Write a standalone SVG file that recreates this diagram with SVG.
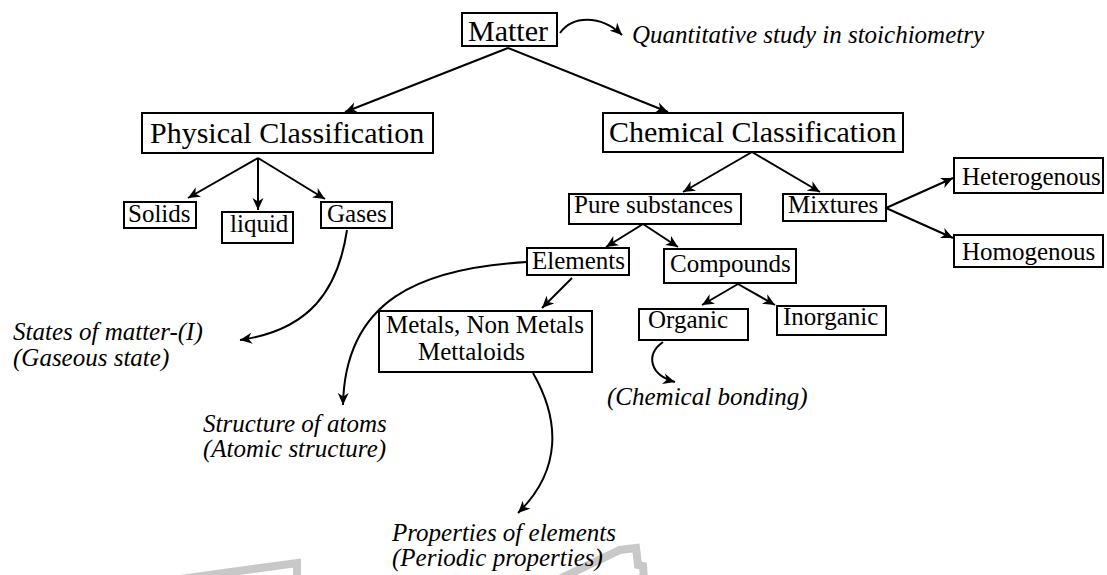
<svg xmlns="http://www.w3.org/2000/svg" width="1107" height="575" viewBox="0 0 1107 575">
<defs>
<marker id="ah" markerUnits="userSpaceOnUse" markerWidth="14" markerHeight="12" refX="12" refY="6" orient="auto">
<path d="M0,0.5 L12,6 L0,11.5 L3.5,6 z" fill="#000"/>
</marker>
<style>
.box{fill:#fff;stroke:#000;stroke-width:2}
.t{font-size:25px;fill:#000}
.big{font-size:30px}
.it{font-size:25px;font-style:italic;fill:#000}
.c{fill:none;stroke:#000;stroke-width:2;marker-end:url(#ah)}
.wm{fill:none;stroke:#c8c8c8;stroke-width:8}
</style>
</defs>
<rect width="1107" height="575" fill="#fff"/>
<g id="watermark">
<polyline class="wm" points="180,579 297,563 297,579"/>
<polyline class="wm" points="555,581 620,550 636,548 638,565 643,566 644,579"/>
</g>
<g id="connectors">
<path class="c" d="M508,48 L345,112"/>
<path class="c" d="M508,48 L668,112"/>
<path class="c" d="M560,33 C572,16 600,14 622,35"/>
<path class="c" d="M258,158 L188,198"/>
<path class="c" d="M258,158 L258,210"/>
<path class="c" d="M258,158 L325,199"/>
<path class="c" d="M347,230 C338,290 310,330 240,340"/>
<path class="c" d="M752,152 L683,192"/>
<path class="c" d="M752,152 L820,192"/>
<path class="c" d="M643,224 L606,247"/>
<path class="c" d="M643,224 L678,247"/>
<path class="c" d="M886,208 L953,178"/>
<path class="c" d="M886,208 L953,238"/>
<path class="c" d="M527,262 C420,268 345,300 343,405"/>
<path class="c" d="M572,278 L542,308"/>
<path class="c" d="M533,373 C560,420 562,470 518,513"/>
<path class="c" d="M738,284 L702,305"/>
<path class="c" d="M738,284 L775,305"/>
<path class="c" d="M663,342 C645,355 650,375 675,382"/>
</g>
<g font-family="'Liberation Serif', 'Times New Roman', Times, serif">
<g id="matter"><rect class="box" x="462" y="13" width="95" height="33"/><text class="t big" x="468" y="41">Matter</text></g>
<g id="quant"><text class="it" x="632" y="43">Quantitative study in stoichiometry</text></g>
<g id="physical"><rect class="box" x="142" y="113" width="291" height="40"/><text class="t big" x="150" y="143">Physical Classification</text></g>
<g id="chemical"><rect class="box" x="603" y="113" width="300" height="39"/><text class="t big" x="609" y="142">Chemical Classification</text></g>
<g id="solids"><rect class="box" x="124" y="202" width="72" height="26"/><text class="t" x="128" y="222">Solids</text></g>
<g id="liquid"><rect class="box" x="222" y="212" width="71" height="31"/><text class="t" x="230" y="232">liquid</text></g>
<g id="gases"><rect class="box" x="321" y="202" width="71" height="26"/><text class="t" x="327" y="222">Gases</text></g>
<g id="states"><text class="it" x="13" y="340">States of matter-(I)</text><text class="it" x="13" y="366">(Gaseous state)</text></g>
<g id="pure"><rect class="box" x="569" y="194" width="172" height="30"/><text class="t" x="574" y="213">Pure substances</text></g>
<g id="mixtures"><rect class="box" x="783" y="194" width="103" height="27"/><text class="t" x="788" y="213">Mixtures</text></g>
<g id="hetero"><rect class="box" x="954" y="158" width="149" height="35"/><text class="t" x="962" y="185">Heterogenous</text></g>
<g id="homo"><rect class="box" x="954" y="235" width="149" height="32"/><text class="t" x="962" y="260">Homogenous</text></g>
<g id="elements"><rect class="box" x="527" y="248" width="102" height="27"/><text class="t" x="532" y="269">Elements</text></g>
<g id="compounds"><rect class="box" x="664" y="249" width="132" height="34"/><text class="t" x="670" y="272">Compounds</text></g>
<g id="metals"><rect class="box" x="379" y="311" width="213" height="61"/><text class="t" x="386" y="333">Metals, Non Metals</text><text class="t" x="418" y="360">Mettaloids</text></g>
<g id="organic"><rect class="box" x="639" y="309" width="109" height="31"/><text class="t" x="648" y="328">Organic</text></g>
<g id="inorganic"><rect class="box" x="777" y="306" width="109" height="29"/><text class="t" x="783" y="325">Inorganic</text></g>
<g id="bonding"><text class="it" x="607" y="405">(Chemical bonding)</text></g>
<g id="structure"><text class="it" x="203" y="432">Structure of atoms</text><text class="it" x="203" y="457">(Atomic structure)</text></g>
<g id="properties"><text class="it" x="392" y="541">Properties of elements</text><text class="it" x="392" y="566">(Periodic properties)</text></g>
</g>
</svg>
